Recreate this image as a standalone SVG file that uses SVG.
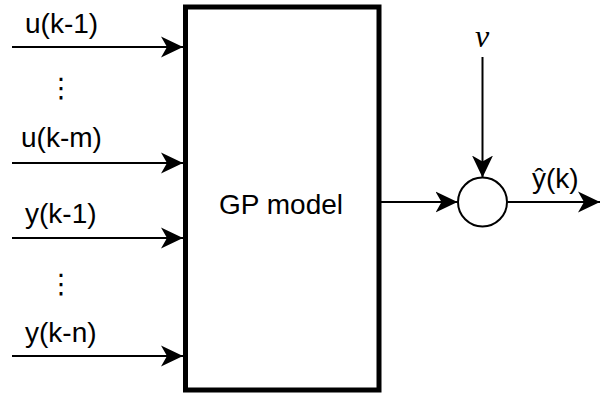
<svg xmlns="http://www.w3.org/2000/svg" width="600" height="394" viewBox="0 0 600 394">
  <style>
    .lbl { font-family: "Liberation Sans", Arial, sans-serif; font-size: 28px; fill: #000; }
    .dots { font-family: "DejaVu Sans", sans-serif; font-size: 27px; fill: #000; }
    .wire { stroke: #000; stroke-width: 2; fill: none; }
  </style>
  <defs>
    <marker id="arrow" markerUnits="userSpaceOnUse" markerWidth="24" markerHeight="24" viewBox="-22 -11 24 22" refX="0" refY="0" orient="auto">
      <path d="M0,0 L-22,-10.5 L-16,0 L-22,10.5 Z" fill="#000"/>
    </marker>
  </defs>
  <rect width="600" height="394" fill="#fff"/>

  <!-- signal wires -->
  <g id="connectors">
    <line class="wire" x1="12" y1="47" x2="183" y2="47" marker-end="url(#arrow)"/>
    <line class="wire" x1="12" y1="163" x2="183" y2="163" marker-end="url(#arrow)"/>
    <line class="wire" x1="12" y1="238" x2="183" y2="238" marker-end="url(#arrow)"/>
    <line class="wire" x1="12" y1="356" x2="183" y2="356" marker-end="url(#arrow)"/>
    <line class="wire" x1="381" y1="202" x2="457.5" y2="202" marker-end="url(#arrow)"/>
    <line class="wire" x1="482.5" y1="57" x2="482.5" y2="177.5" marker-end="url(#arrow)"/>
    <line class="wire" x1="507.5" y1="202" x2="600" y2="202" marker-end="url(#arrow)"/>
  </g>

  <!-- regressor labels -->
  <g id="inputs">
    <text class="lbl" x="25" y="33">u(k-1)</text>
    <text class="dots" x="61" y="97" text-anchor="middle">⋮</text>
    <text class="lbl" x="21" y="147">u(k-m)</text>
    <text class="lbl" x="25" y="223">y(k-1)</text>
    <text class="dots" x="61" y="293" text-anchor="middle">⋮</text>
    <text class="lbl" x="25" y="342">y(k-n)</text>
  </g>

  <g id="gp-model">
    <rect x="185.5" y="7" width="193.5" height="383" fill="#fff" stroke="#000" stroke-width="5"/>
    <text class="lbl" x="281" y="214" text-anchor="middle" font-size="29">GP model</text>
  </g>

  <g id="noise">
    <text x="482" y="47" text-anchor="middle" font-family="Liberation Serif, serif" font-style="italic" font-size="32">ν</text>
  </g>

  <g id="sum">
    <circle cx="482.5" cy="202" r="24.5" fill="#fff" stroke="#000" stroke-width="2"/>
  </g>

  <g id="output">
    <text class="lbl" x="532" y="188">ŷ(k)</text>
  </g>
</svg>
